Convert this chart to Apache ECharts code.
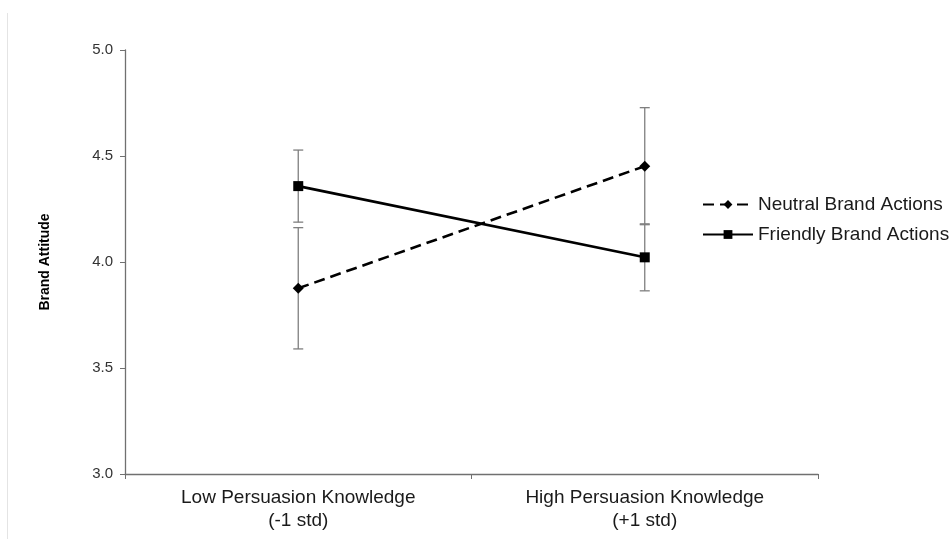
<!DOCTYPE html>
<html>
<head>
<meta charset="utf-8">
<script src="https://cdn.jsdelivr.net/npm/echarts@6/dist/echarts.min.js"></script>
<style>
  html, body { margin: 0; padding: 0; background: #fff; }
  #chart { width: 951px; height: 539px; }
</style>
</head>
<body>
<div id="chart"></div>
<script>
// Interaction plot: brand attitude by persuasion knowledge level
const categories = ['Low Persuasion Knowledge\n(-1 std)', 'High Persuasion Knowledge\n(+1 std)'];
const neutralMeans = [3.876, 4.452];
const neutralErr = [0.286, 0.276];
const friendlyMeans = [4.358, 4.022];
const friendlyErr = [0.17, 0.158];
const yTicks = [3.0, 3.5, 4.0, 4.5, 5.0];

function errorData(means, errs) {
  return means.map((m, i) => [i, m - errs[i], m + errs[i]]);
}

function renderErrorBar(params, api) {
  const x = api.value(0);
  const lo = api.coord([x, api.value(1)]);
  const hi = api.coord([x, api.value(2)]);
  const half = 5;
  const style = { stroke: '#7f7f7f', lineWidth: 1.3, fill: null };
  return {
    type: 'group',
    children: [
      { type: 'line', shape: { x1: hi[0], y1: hi[1], x2: lo[0], y2: lo[1] }, style },
      { type: 'line', shape: { x1: hi[0] - half, y1: hi[1], x2: hi[0] + half, y2: hi[1] }, style },
      { type: 'line', shape: { x1: lo[0] - half, y1: lo[1], x2: lo[0] + half, y2: lo[1] }, style }
    ]
  };
}

const chart = echarts.init(document.getElementById('chart'), null, { renderer: 'canvas' });
chart.setOption({
  animation: false,
  backgroundColor: '#ffffff',
  textStyle: { fontFamily: 'Liberation Sans, Arial, sans-serif' },
  graphic: [{
    type: 'line',
    shape: { x1: 7.5, y1: 13, x2: 7.5, y2: 539 },
    style: { stroke: '#e4e4e4', lineWidth: 1 }
  }],
  grid: { left: 125, right: 133, top: 50, bottom: 65 },
  legend: {
    orient: 'vertical',
    left: 697,
    top: 190,
    itemGap: 11,
    itemWidth: 50,
    itemHeight: 11,
    textStyle: { fontSize: 19, color: '#1a1a1a', fontFamily: 'Liberation Sans, Arial, sans-serif' },
    data: ['Neutral Brand Actions', 'Friendly Brand Actions']
  },
  xAxis: {
    type: 'category',
    data: categories,
    boundaryGap: true,
    axisLine: { lineStyle: { color: '#707070', width: 1.3 } },
    axisTick: { show: true, inside: false, length: 5, lineStyle: { color: '#707070' } },
    axisLabel: { color: '#1a1a1a', fontSize: 19, lineHeight: 23, margin: 12 },
    splitLine: { show: false }
  },
  yAxis: {
    type: 'value',
    min: 3,
    max: 5,
    interval: 0.5,
    name: 'Brand Attitude',
    nameLocation: 'middle',
    nameGap: 73,
    nameRotate: 90,
    nameTextStyle: { fontSize: 14, fontWeight: 'bold', color: '#000' },
    axisLine: { show: true, lineStyle: { color: '#707070', width: 1.3 } },
    axisTick: { show: true, length: 5, lineStyle: { color: '#707070' } },
    axisLabel: {
      color: '#333',
      fontSize: 15,
      margin: 12,
      formatter: v => (yTicks.includes(v) ? v.toFixed(1) : '')
    },
    splitLine: { show: false }
  },
  series: [
    {
      name: 'Neutral Brand Actions err',
      type: 'custom',
      renderItem: renderErrorBar,
      data: errorData(neutralMeans, neutralErr),
      encode: { x: 0, y: [1, 2] },
      z: 1,
      silent: true
    },
    {
      name: 'Friendly Brand Actions err',
      type: 'custom',
      renderItem: renderErrorBar,
      data: errorData(friendlyMeans, friendlyErr),
      encode: { x: 0, y: [1, 2] },
      z: 1,
      silent: true
    },
    {
      name: 'Neutral Brand Actions',
      type: 'line',
      data: neutralMeans,
      symbol: 'diamond',
      symbolSize: 11,
      color: '#000',
      itemStyle: { color: '#000' },
      lineStyle: { color: '#000', width: 2.6, type: [11, 6] },
      z: 3
    },
    {
      name: 'Friendly Brand Actions',
      type: 'line',
      data: friendlyMeans,
      symbol: 'rect',
      symbolSize: 10,
      color: '#000',
      itemStyle: { color: '#000' },
      lineStyle: { color: '#000', width: 2.6 },
      z: 3
    }
  ]
});
</script>
</body>
</html>
